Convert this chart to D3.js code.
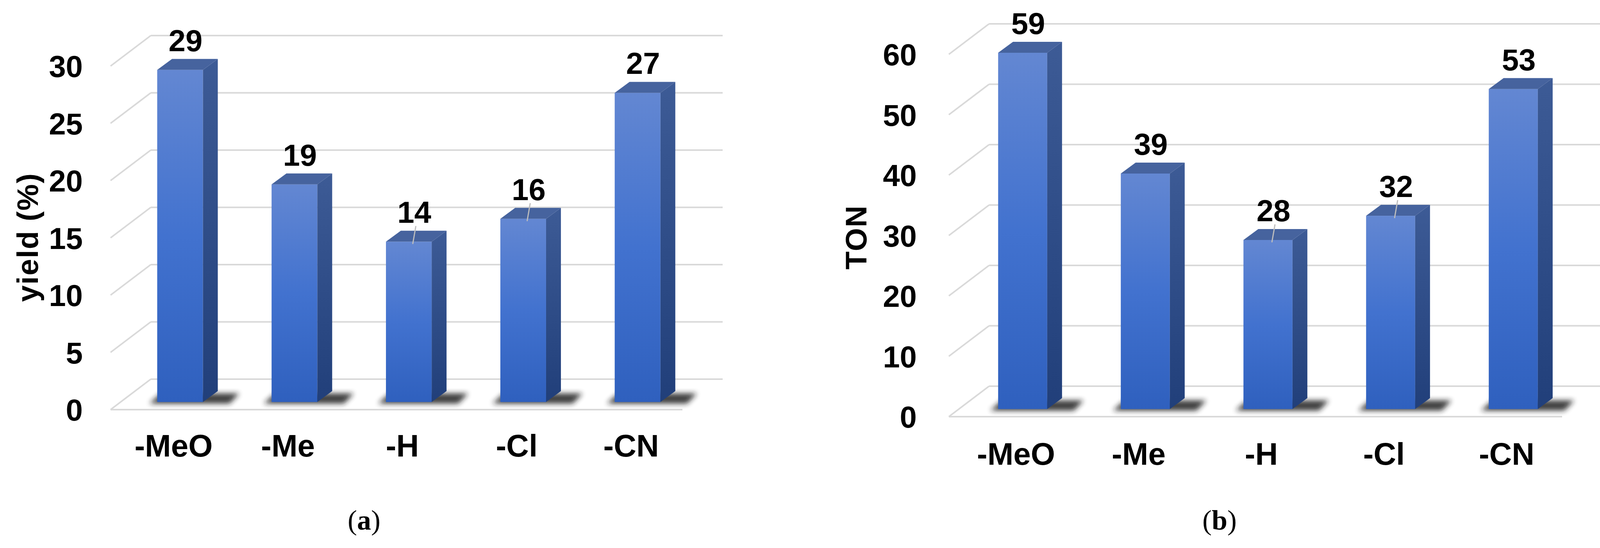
<!DOCTYPE html>
<html><head><meta charset="utf-8">
<script src="https://cdn.jsdelivr.net/npm/d3@7"></script>
<style>body{margin:0;background:#fff}svg{display:block}</style>
</head><body>
<svg id="c" width="4131" height="1402"></svg>
<script>
const categories = ['-MeO', '-Me', '-H', '-Cl', '-CN'];
const yieldValues = [29, 19, 14, 16, 27];
const tonValues = [59, 39, 28, 32, 53];
const yieldTicks = [0, 5, 10, 15, 20, 25, 30];
const tonTicks = [0, 10, 20, 30, 40, 50, 60];
const leaderBars = ['-H', '-Cl'];   // labels drawn with a small leader line

const svg = d3.select('#c');
const defs = svg.append('defs');
const gFront = defs.append('linearGradient').attr('id', 'gf').attr('x1', 0).attr('y1', 0).attr('x2', 0).attr('y2', 1);
gFront.append('stop').attr('offset', '0%').attr('stop-color', '#6387d2');
gFront.append('stop').attr('offset', '50%').attr('stop-color', '#4272cf');
gFront.append('stop').attr('offset', '100%').attr('stop-color', '#2f60be');
const gSide = defs.append('linearGradient').attr('id', 'gs').attr('x1', 0).attr('y1', 0).attr('x2', 0).attr('y2', 1);
gSide.append('stop').attr('offset', '0%').attr('stop-color', '#3d5b96');
gSide.append('stop').attr('offset', '100%').attr('stop-color', '#213f7a');
defs.append('filter').attr('id', 'blur').attr('x', '-50%').attr('y', '-50%').attr('width', '200%').attr('height', '200%')
  .append('feGaussianBlur').attr('stdDeviation', 7);

const FONT = '"Liberation Sans", Arial, sans-serif';

function panel(o) {
  const g = svg.append('g');
  const dx = -103, dy = 78, f = 0.75;      // floor depth, bar plane fraction
  const y = d3.scaleLinear().domain([0, d3.max(o.ticks)]).range([o.back0, o.backTop]);
  const x = d3.scaleBand().domain(categories).range([o.x0, o.x1]);
  const bw = x.bandwidth();
  const grid = '#d9d9d9';

  // back wall gridlines + left wall diagonals
  o.ticks.forEach(t => {
    g.append('line').attr('x1', o.x0).attr('x2', o.x1).attr('y1', y(t)).attr('y2', y(t))
      .attr('stroke', grid).attr('stroke-width', 4);
    g.append('line').attr('x1', o.x0 + dx).attr('y1', y(t) + dy).attr('x2', o.x0).attr('y2', y(t))
      .attr('stroke', grid).attr('stroke-width', 4);
  });
  // floor front edge
  g.append('line').attr('x1', o.x0 + dx).attr('x2', o.x1 + dx).attr('y1', y(0) + dy).attr('y2', y(0) + dy)
    .attr('stroke', grid).attr('stroke-width', 4);

  // tick labels on the front plane
  g.selectAll('text.tk').data(o.ticks).join('text')
    .attr('x', o.tickX).attr('y', d => y(d) + dy).attr('dy', '0.36em')
    .attr('text-anchor', 'end').attr('font-family', FONT).attr('font-weight', 700)
    .attr('font-size', 78).attr('fill', '#000').text(d => d);

  const bx = c => x(c) + f * dx + 0.32 * bw;
  const w = 0.4 * bw, sx = 38, sy = -28;
  const base = y(0) + f * dy;

  o.values.forEach((v, i) => {
    const c = categories[i];
    const x0 = bx(c), top = y(v) + f * dy;
    // floor shadow
    g.append('path').attr('filter', 'url(#blur)').attr('fill', '#1a1a1a').attr('opacity', 0.85)
      .attr('d', `M${x0 - 20},${base + 4} L${x0 + w + sx + 30},${base + 4} L${x0 + w + sx + 55},${base - 22} L${x0 + 10},${base - 22}Z`);
    g.append('rect').attr('x', x0).attr('y', top).attr('width', w).attr('height', base - top).attr('fill', 'url(#gf)');
    g.append('path').attr('fill', 'url(#gs)')
      .attr('d', `M${x0 + w},${top} L${x0 + w + sx},${top + sy} L${x0 + w + sx},${base + sy} L${x0 + w},${base}Z`);
    g.append('path').attr('fill', '#46639e')
      .attr('d', `M${x0},${top} L${x0 + sx},${top + sy} L${x0 + w + sx},${top + sy} L${x0 + w},${top}Z`);
    const lx = x0 + w / 2 + 14, ly = top + sy - 20;
    if (leaderBars.includes(c)) {
      g.append('line').attr('x1', lx + 4).attr('y1', ly + 8).attr('x2', lx - 4).attr('y2', top + 6)
        .attr('stroke', '#bdbdbd').attr('stroke-width', 3);
    }
    g.append('text').attr('x', lx).attr('y', ly).attr('text-anchor', 'middle')
      .attr('font-family', FONT).attr('font-weight', 700).attr('font-size', 78).text(v);
  });

  // category labels
  g.selectAll('text.cat').data(categories).join('text')
    .attr('x', d => x(d) + bw / 2 - 88).attr('y', o.catY).attr('dy', '0.36em')
    .attr('text-anchor', 'middle').attr('font-family', FONT).attr('font-weight', 700)
    .attr('font-size', 80).text(d => d);

  g.append('text').attr('transform', `translate(${o.labX},${o.labY}) rotate(-90)`)
    .attr('text-anchor', 'middle').attr('dy', '0.36em').attr('font-family', FONT).attr('font-weight', 700)
    .attr('font-size', 76).attr('letter-spacing', 2).text(o.label);

  const cap = g.append('text').attr('x', o.capX).attr('y', 1329).attr('dy', '0.36em').attr('text-anchor', 'middle')
    .attr('font-family', '"Liberation Serif", "Times New Roman", serif').attr('font-size', 72);
  cap.append('tspan').text('(');
  cap.append('tspan').attr('font-weight', 700).text(o.cap);
  cap.append('tspan').text(')');
}

panel({ values: yieldValues, ticks: yieldTicks, back0: 970, backTop: 91, x0: 386, x1: 1850,
  tickX: 212, catY: 1139, labX: 70, labY: 607, label: 'yield (%)', capX: 932, cap: 'a' });
panel({ values: tonValues, ticks: tonTicks, back0: 988, backTop: 61, x0: 2532, x1: 4102,
  tickX: 2347, catY: 1160, labX: 2191, labY: 607, label: 'TON', capX: 3122, cap: 'b' });
</script>
</body></html>
